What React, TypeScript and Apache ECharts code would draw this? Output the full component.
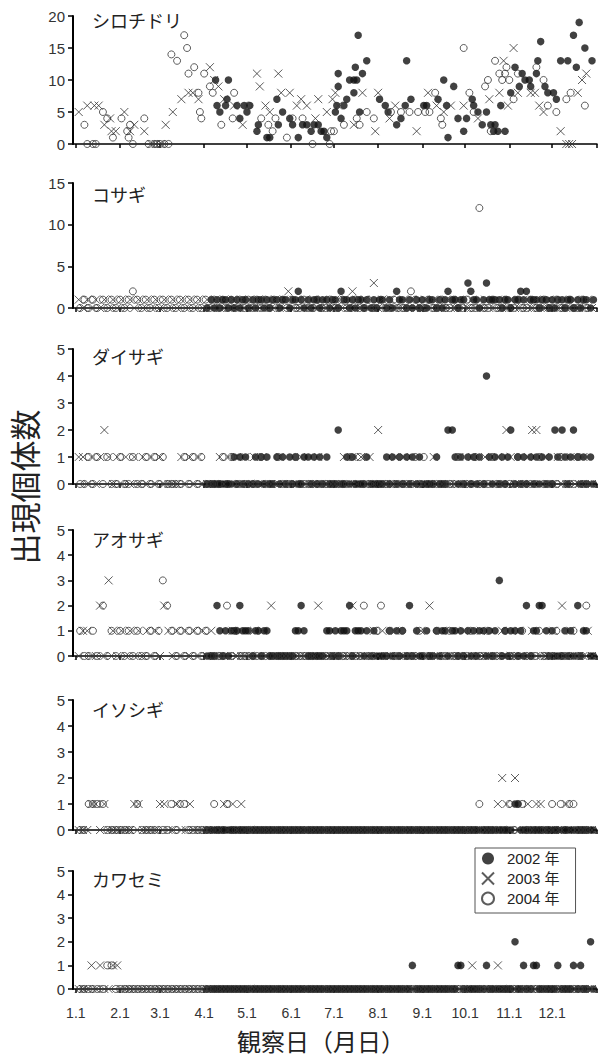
import React, { useEffect, useRef } from 'react';
import * as echarts from 'echarts';

// x axis: day of year (0 = 1 Jan)
const monthStarts = [0, 31, 59, 90, 120, 151, 181, 212, 243, 273, 304, 334, 365];
const monthLabels = ['1.1', '2.1', '3.1', '4.1', '5.1', '6.1', '7.1', '8.1', '9.1', '10.1', '11.1', '12.1'];
const years = ['2002 年', '2003 年', '2004 年'];
const speciesNames = ['シロチドリ', 'コサギ', 'ダイサギ', 'アオサギ', 'イソシギ', 'カワセミ'];
const yMax = [20, 15, 5, 5, 5, 5];
const yInterval = [5, 5, 1, 1, 1, 1];

// survey days per year (a survey day with no listed count = 0 birds)
const survey2002 = [92,95,97,99,101,103,105,107,109,111,113,115,117,119,121,124,126,128,130,132,134,136,138,141,143,145,147,150,152,154,156,158,160,163,165,167,169,171,173,176,178,180,182,184,186,188,190,192,194,196,198,200,202,204,207,209,211,213,215,218,220,222,225,227,229,232,234,236,239,241,243,246,248,250,253,255,257,259,261,264,266,268,270,272,275,277,279,281,283,286,288,290,292,294,297,299,301,303,305,308,310,312,314,316,319,321,323,325,327,330,332,334,336,338,341,343,345,347,349,352,354,356,358,361,363];
const survey2003 = [2,5,8,11,14,17,20,23,26,29,32,35,38,41,44,47,50,53,56,59,62,65,68,71,74,77,80,83,86,89,92,95,98,101,104,107,110,113,116,119,122,125,128,131,134,137,140,143,146,149,152,155,158,161,164,167,170,173,176,179,182,185,188,191,194,197,200,203,206,209,212,215,218,221,224,227,230,233,236,239,242,245,248,251,254,257,260,263,266,269,272,275,278,281,284,287,290,293,296,299,302,305,308,311,314,317,320,323,326,329,332,335,338,341,344,347,350,353,356,359,362];
const survey2004 = [3,6,9,12,15,19,22,25,28,31,34,37,40,43,46,49,52,55,58,61,64,67,70,73,76,79,82,85,88,91,94,97,100,103,106,109,112,115,118,121,124,127,130,133,136,139,142,145,148,151,154,157,160,163,166,169,172,175,178,181,184,187,190,193,196,199,202,205,208,211,214,217,220,223,226,229,232,235,238,241,244,247,250,253,256,259,262,265,268,271,274,277,280,283,286,289,292,295,298,301,304,307,310,313,316,319,322,325,328,331,334,337,340,343,346,349,352,355,358];

// シロチドリ: [day, count]
const shiro2002: [number, number][] = [[98,10],[99,6],[101,5],[105,6],[106,7],[107,10],[113,6],[115,4],[118,6],[120,5],[122,6],[127,2],[128,3],[134,1],[136,1],[141,7],[142,3],[145,5],[150,4],[152,3],[156,1],[159,3],[162,3],[165,2],[167,3],[170,3],[172,2],[174,2],[176,1],[182,5],[183,6],[184,9],[184,11],[186,4],[188,6],[190,7],[192,10],[195,10],[196,12],[197,10],[195,8],[198,17],[199,5],[201,11],[204,13],[213,7],[217,6],[219,5],[225,3],[228,4],[231,6],[232,13],[235,7],[244,6],[246,6],[254,7],[258,10],[260,6],[261,1],[265,9],[268,4],[272,2],[274,4],[278,7],[279,6],[282,5],[285,3],[288,5],[291,3],[293,2],[294,3],[296,2],[298,6],[301,2],[305,8],[308,12],[311,9],[313,11],[315,10],[318,10],[319,9],[323,11],[324,13],[326,16],[329,9],[331,8],[335,8],[337,7],[340,13],[345,13],[349,17],[351,12],[353,19],[357,15],[362,13]];
const shiro2003: [number, number][] = [[2,5],[8,6],[13,6],[16,6],[20,3],[24,4],[25,2],[28,2],[34,5],[38,2],[41,3],[48,2],[53,0],[56,0],[60,0],[63,3],[68,5],[74,7],[79,8],[82,8],[86,7],[94,12],[97,10],[100,9],[104,7],[111,6],[117,3],[127,11],[129,9],[133,6],[136,5],[142,11],[144,8],[150,8],[155,6],[158,7],[162,6],[168,4],[170,7],[176,5],[180,7],[182,8],[184,6],[195,3],[201,8],[210,2],[212,8],[220,4],[224,6],[239,2],[247,8],[253,6],[258,5],[263,6],[272,6],[282,4],[290,7],[297,8],[300,13],[303,6],[307,15],[310,8],[319,8],[322,8],[325,6],[328,5],[340,2],[344,0],[346,0],[348,0],[352,8],[355,10],[358,11]];
const shiro2004: [number, number][] = [[6,3],[8,0],[12,0],[14,0],[19,5],[22,4],[26,1],[32,4],[36,2],[37,1],[38,3],[40,0],[48,4],[51,0],[55,0],[57,0],[59,0],[62,0],[65,0],[67,14],[71,13],[76,17],[78,15],[79,11],[83,12],[86,8],[87,5],[88,4],[90,11],[94,9],[96,8],[102,3],[110,4],[111,8],[121,6],[130,4],[135,3],[138,2],[140,4],[148,1],[152,4],[159,4],[166,0],[178,0],[179,2],[181,2],[188,3],[197,4],[199,3],[204,5],[209,4],[221,5],[228,5],[234,5],[240,5],[245,5],[248,5],[252,8],[256,4],[257,3],[272,15],[276,8],[279,5],[287,9],[289,10],[291,2],[294,13],[297,11],[299,10],[301,11],[302,12],[304,10],[307,7],[310,11],[323,12],[328,10],[331,6],[337,5],[344,7],[347,8],[357,6]];

// other species: count -> days with that count
const kosagi2002: Record<number, number[]> = {
  1: [95,99,103,105,109,113,117,119,124,128,130,134,138,141,145,147,152,154,158,163,167,169,173,176,180,182,188,190,194,198,200,204,209,213,215,220,227,229,234,239,243,248,250,255,259,264,266,270,272,279,281,286,290,292,294,297,301,303,308,310,314,319,321,323,327,330,334,338,341,345,347,352,356,358,363],
  2: [156,186,225,261,277,312,316],
  3: [275,288],
};
const kosagi2003: Record<number, number[]> = {
  1: [2,8,14,20,26,32,38,44,50,56,62,68,74,80,86,92,98,104,110,116,122,128,134,140,146,155,161,167,173,182,188,197,203,215,221,230,236,245,251,260,269,278,287,296,305,314,323,332,341,350,359],
  2: [149,194],
  3: [209],
};
const kosagi2004: Record<number, number[]> = {
  1: [6,12,19,25,31,37,43,49,55,61,67,73,79,85,91,97,103,109,115,121,127,133,139,145,151,160,169,178,187,196,205,214,223,238,247,256,265,274,292,301,310,319,328,337,346,355],
  2: [40,235],
  12: [283],
};
const daisagi2002: Record<number, number[]> = {
  1: [111,115,119,126,130,134,141,145,150,154,160,163,167,171,176,190,194,204,218,222,227,232,236,241,253,266,270,275,279,283,290,294,299,303,310,314,319,323,327,332,338,343,347,352,356,361],
  2: [184,261,264,305,336,341,349],
  4: [288],
};
const daisagi2003: Record<number, number[]> = {
  1: [2,5,11,17,23,29,35,41,47,53,59,74,80,86,101,107,113,119,125,131,143,158,170,188,194,200,206,224,230,251,269,278,287,296,305,317,329,338,347,356],
  2: [20,212,302,320,323],
};
const daisagi2004: Record<number, number[]> = {
  1: [9,15,22,31,40,49,55,61,76,82,88,103,109,130,142,154,193,199,238,244,268,280,292,310,325,340,352],
};
const aosagi2002: Record<number, number[]> = {
  1: [101,105,109,111,113,117,119,121,126,128,132,134,154,156,160,176,178,182,186,188,190,196,198,200,204,209,220,225,229,239,246,253,257,259,264,266,270,275,279,283,286,290,294,301,305,308,312,321,323,330,334,343,347,356,358],
  2: [99,115,158,192,234,316,325,327,352],
  3: [297],
};
const aosagi2003: Record<number, number[]> = {
  1: [5,8,26,32,38,44,50,56,65,71,77,83,89,95,110,125,131,209,215,224,242,257,272,284,299,311,320,335,347,359],
  2: [17,62,137,170,194,248,341],
  3: [23],
};
const aosagi2004: Record<number, number[]> = {
  1: [3,12,25,31,37,43,52,58,67,73,79,85,91,112,211,220,229,241,253,262,277,289,301,313,325,337,349],
  2: [19,64,106,202,214,358],
  3: [61],
};
const isoshigi2002: Record<number, number[]> = { 1: [308,310] };
const isoshigi2003: Record<number, number[]> = {
  1: [11,14,20,41,44,59,62,71,80,104,110,116,296,302,317,323,326,344],
  2: [299,308],
};
const isoshigi2004: Record<number, number[]> = {
  1: [9,12,15,19,43,67,73,76,97,106,283,304,310,313,334,340,346,349],
};
const kawasemi2002: Record<number, number[]> = {
  1: [236,268,270,288,314,321,323,338,349,354],
  2: [308,361],
};
const kawasemi2003: Record<number, number[]> = { 1: [11,17,26,29,278,296] };
const kawasemi2004: Record<number, number[]> = { 1: [22,25] };

function fromSurvey(survey: number[], counts: Record<number, number[]>): [number, number][] {
  const pts: [number, number][] = [];
  const seen = new Set<number>();
  Object.keys(counts).forEach((k) => {
    counts[Number(k)].forEach((d) => {
      pts.push([d, Number(k)]);
      seen.add(d);
    });
  });
  survey.forEach((d) => {
    if (!seen.has(d)) pts.push([d, 0]);
  });
  return pts;
}

const panelData: [number, number][][][] = [
  [shiro2002, shiro2003, shiro2004],
  [fromSurvey(survey2002, kosagi2002), fromSurvey(survey2003, kosagi2003), fromSurvey(survey2004, kosagi2004)],
  [fromSurvey(survey2002, daisagi2002), fromSurvey(survey2003, daisagi2003), fromSurvey(survey2004, daisagi2004)],
  [fromSurvey(survey2002, aosagi2002), fromSurvey(survey2003, aosagi2003), fromSurvey(survey2004, aosagi2004)],
  [fromSurvey(survey2002, isoshigi2002), fromSurvey(survey2003, isoshigi2003), fromSurvey(survey2004, isoshigi2004)],
  [fromSurvey(survey2002, kawasemi2002), fromSurvey(survey2003, kawasemi2003), fromSurvey(survey2004, kawasemi2004)],
];

// layout
const gridTops = [16, 183, 349, 530, 700, 871];
const gridHeights = [128, 125, 135, 126, 130, 118];
const titleYs = [21, 195, 357, 540, 710, 880];
const CROSS = 'path://M0 0L10 10M10 0L0 10';
const JP = '"Noto Sans CJK JP", "Noto Sans", sans-serif';
const NUM = '"Liberation Sans", Arial, "Noto Sans CJK JP", sans-serif';

const yearStyles = [
  { symbol: 'circle', symbolSize: 7.5, itemStyle: { color: '#111' } },
  { symbol: CROSS, symbolSize: 8, itemStyle: { color: 'transparent', borderColor: '#333', borderWidth: 1 } },
  { symbol: 'circle', symbolSize: 7, itemStyle: { color: 'transparent', borderColor: '#333', borderWidth: 1 } },
];

export default function App() {
  const ref = useRef<HTMLDivElement>(null);
  useEffect(() => {
    if (!ref.current) return;
    const chart = echarts.init(ref.current, null, { renderer: 'svg' });
    const grid: any[] = [];
    const xAxis: any[] = [];
    const yAxis: any[] = [];
    const series: any[] = [];
    const graphic: any[] = [];
    for (let i = 0; i < 6; i++) {
      grid.push({ left: 73, width: 524, top: gridTops[i], height: gridHeights[i] });
      xAxis.push({
        gridIndex: i,
        type: 'value',
        min: -2,
        max: 365.5,
        axisLine: { onZero: false, lineStyle: { color: '#000', width: 1.5 } },
        axisTick: { show: true, customValues: monthStarts, length: 4, lineStyle: { color: '#000', width: 1.5 } },
        axisLabel: {
          show: i === 5,
          customValues: monthStarts.slice(0, 12),
          formatter: (v: number) => monthLabels[monthStarts.indexOf(v)] ?? '',
          fontSize: 14,
          color: '#333',
          fontFamily: NUM,
          margin: 17,
        },
        splitLine: { show: false },
      });
      yAxis.push({
        gridIndex: i,
        type: 'value',
        min: 0,
        max: yMax[i],
        interval: yInterval[i],
        axisLine: { show: true, onZero: false, lineStyle: { color: '#000', width: 2 } },
        axisTick: { show: true, length: 5, lineStyle: { color: '#000', width: 1.5 } },
        axisLabel: { fontSize: 15, color: '#333', fontFamily: NUM, margin: 8 },
        splitLine: { show: false },
      });
      for (let y = 0; y < 3; y++) {
        series.push({
          type: 'scatter',
          name: years[y],
          xAxisIndex: i,
          yAxisIndex: i,
          data: panelData[i][y],
          clip: false,
          silent: true,
          ...yearStyles[y],
        });
      }
      graphic.push({
        type: 'text',
        left: 92,
        top: titleYs[i] - 10,
        style: { text: speciesNames[i], font: `18px ${JP}`, fill: '#222' },
      });
    }
    graphic.push({
      type: 'text',
      x: 23,
      y: 487,
      rotation: Math.PI / 2,
      style: { text: '出現個体数', font: `31px ${JP}`, fill: '#222', align: 'center', verticalAlign: 'middle' },
    });
    graphic.push({
      type: 'text',
      x: 321,
      y: 1040,
      style: { text: '観察日（月日）', font: `24px ${JP}`, fill: '#222', align: 'center', verticalAlign: 'middle' },
    });
    chart.setOption({
      animation: false,
      backgroundColor: '#fff',
      grid,
      xAxis,
      yAxis,
      series,
      graphic,
      legend: {
        orient: 'vertical',
        left: 475,
        top: 848,
        selectedMode: false,
        data: [
          { name: years[0], icon: 'circle' },
          { name: years[1], icon: CROSS },
          { name: years[2], icon: 'circle' },
        ],
        itemWidth: 12,
        itemHeight: 12,
        itemGap: 5,
        padding: [3, 16, 7, 6],
        borderColor: '#555',
        borderWidth: 1,
        textStyle: { fontSize: 15, lineHeight: 15, color: '#222', fontFamily: NUM, padding: [0, 0, 0, 8] },
      },
    });
    return () => chart.dispose();
  }, []);
  return <div ref={ref} style={{ position: 'absolute', left: 0, top: 0, width: 599, height: 1057 }} />;
}
